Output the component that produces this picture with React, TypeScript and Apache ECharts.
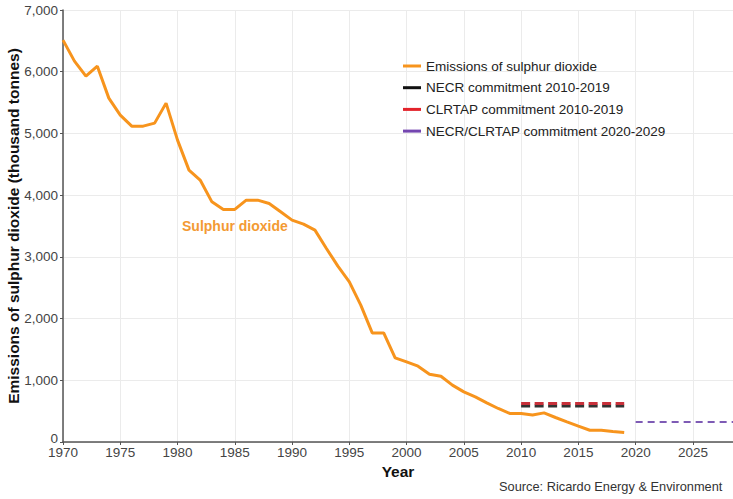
import React, { useEffect, useRef } from "react";
import * as echarts from "echarts";

const years = [
  1970, 1971, 1972, 1973, 1974, 1975, 1976, 1977, 1978, 1979,
  1980, 1981, 1982, 1983, 1984, 1985, 1986, 1987, 1988, 1989,
  1990, 1991, 1992, 1993, 1994, 1995, 1996, 1997, 1998, 1999,
  2000, 2001, 2002, 2003, 2004, 2005, 2006, 2007, 2008, 2009,
  2010, 2011, 2012, 2013, 2014, 2015, 2016, 2017, 2018, 2019,
];
const emissions = [
  6512, 6172, 5928, 6090, 5572, 5296, 5118, 5118, 5167, 5491,
  4891, 4405, 4238, 3891, 3768, 3768, 3919, 3919, 3865, 3730,
  3595, 3530, 3433, 3136, 2849, 2595, 2217, 1768, 1768, 1363,
  1298, 1228, 1099, 1066, 921, 812, 731, 634, 543, 462,
  462, 439, 472, 397, 326, 256, 191, 191, 170, 154,
];
const necrYears = [2010, 2019];
const necrValue = 585;
const clrtapYears = [2010, 2019];
const clrtapValue = 625;
const futureYears = [2020, 2029];
const futureValue = 326;

const seriesNames = [
  "Emissions of sulphur dioxide",
  "NECR commitment 2010-2019",
  "CLRTAP commitment 2010-2019",
  "NECR/CLRTAP commitment 2020-2029",
];

const FONT = "Liberation Sans, Arial, sans-serif";

export default function App() {
  const ref = useRef<HTMLDivElement>(null);
  useEffect(() => {
    if (!ref.current) return;
    const chart = echarts.init(ref.current, undefined, { renderer: "svg" });
    chart.setOption({
      animation: false,
      backgroundColor: "#ffffff",
      textStyle: { fontFamily: FONT },
      grid: {
        left: 63,
        right: 0,
        top: 10,
        bottom: 57,
        containLabel: false,
        outerBoundsMode: "none",
      },
      legend: {
        orient: "vertical",
        left: 403,
        top: 58,
        padding: 0,
        itemWidth: 18,
        itemHeight: 3,
        itemGap: 5.7,
        itemTextGap: 7,
        icon: "rect",
        textStyle: { fontSize: 13.5, lineHeight: 16, color: "#222", fontFamily: FONT },
        data: seriesNames,
      },
      xAxis: {
        type: "value",
        min: 1970,
        max: 2028.5,
        interval: 5,
        name: "Year",
        nameLocation: "middle",
        nameGap: 21,
        nameMoveOverlap: false,
        nameTextStyle: { fontSize: 15.5, fontWeight: "bold", color: "#111", fontFamily: FONT },
        axisLine: { show: true, lineStyle: { color: "#555", width: 1.5 } },
        axisTick: { show: true, length: 3, lineStyle: { color: "#555" } },
        axisLabel: {
          fontSize: 13.5,
          color: "#444",
          margin: 3,
          fontFamily: FONT,
          showMaxLabel: false,
          formatter: (v: number) => (v % 5 === 0 ? String(v) : ""),
        },
        splitLine: { show: true, lineStyle: { color: "#ebebeb", width: 1 } },
      },
      yAxis: {
        type: "value",
        min: 0,
        max: 7000,
        interval: 1000,
        name: "Emissions of sulphur dioxide (thousand tonnes)",
        nameLocation: "middle",
        nameGap: 42,
        nameMoveOverlap: false,
        nameTextStyle: { fontSize: 15.5, fontWeight: "bold", color: "#111", fontFamily: FONT },
        axisLine: { show: true, lineStyle: { color: "#555", width: 1.5 } },
        axisTick: { show: true, length: 3, lineStyle: { color: "#555" } },
        axisLabel: {
          fontSize: 13.5,
          color: "#444",
          margin: 5,
          fontFamily: FONT,
          formatter: (v: number) => (v === 0 ? "{z|0}" : v.toLocaleString("en-US")),
          rich: {
            z: { fontSize: 13.5, color: "#444", fontFamily: FONT, padding: [0, 0, 8, 0] },
          },
        },
        splitLine: { show: true, lineStyle: { color: "#ebebeb", width: 1 } },
      },
      series: [
        {
          name: seriesNames[0],
          type: "line",
          data: years.map((y, i) => [y, emissions[i]]),
          showSymbol: false,
          symbol: "none",
          color: "#f7941d",
          lineStyle: { color: "#f7941d", width: 3 },
          z: 5,
        },
        {
          name: seriesNames[1],
          type: "line",
          data: necrYears.map((y) => [y, necrValue]),
          showSymbol: false,
          symbol: "none",
          color: "#111111",
          lineStyle: { color: "#333", width: 3, type: [9, 4.5] },
          z: 3,
        },
        {
          name: seriesNames[2],
          type: "line",
          data: clrtapYears.map((y) => [y, clrtapValue]),
          showSymbol: false,
          symbol: "none",
          color: "#e3232b",
          lineStyle: { color: "#c8303a", width: 3, type: [9, 4.5] },
          z: 4,
        },
        {
          name: seriesNames[3],
          type: "line",
          data: futureYears.map((y) => [y, futureValue]),
          showSymbol: false,
          symbol: "none",
          color: "#7446b0",
          lineStyle: { color: "#7e5bb5", width: 2, type: [7, 5] },
          z: 4,
        },
      ],
      graphic: [
        {
          type: "text",
          left: 182,
          top: 219,
          style: {
            text: "Sulphur dioxide",
            fontSize: 14,
            fontWeight: "bold",
            fill: "#f39a33",
            fontFamily: FONT,
          },
        },
        {
          type: "text",
          left: 499,
          top: 480,
          style: {
            text: "Source: Ricardo Energy & Environment",
            fontSize: 12.8,
            fill: "#333",
            fontFamily: FONT,
          },
        },
      ],
    });
    return () => chart.dispose();
  }, []);
  return (
    <div
      ref={ref}
      style={{ position: "absolute", left: 0, top: 0, width: 733, height: 499, overflow: "hidden" }}
    />
  );
}
